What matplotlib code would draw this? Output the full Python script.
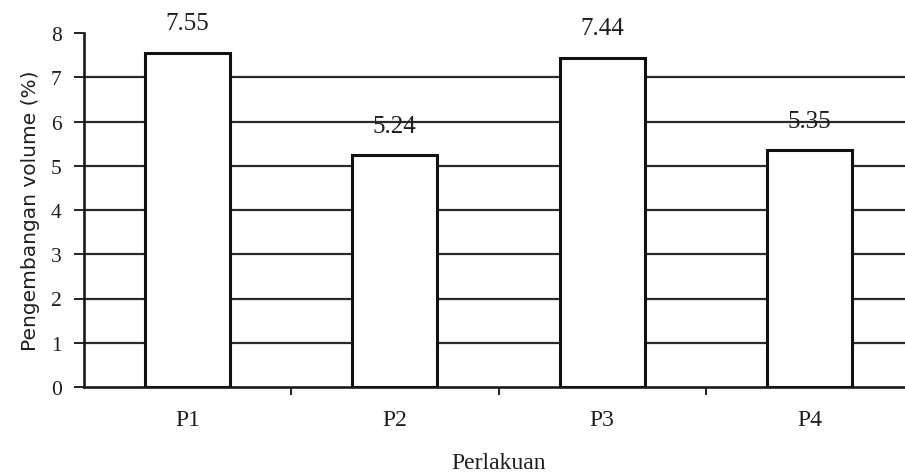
import matplotlib
matplotlib.use("Agg")
import matplotlib.pyplot as plt

# Data
categories = ["P1", "P2", "P3", "P4"]
values = [7.55, 5.24, 7.44, 5.35]
value_labels = ["7.55", "5.24", "7.44", "5.35"]
y_ticks = [0, 1, 2, 3, 4, 5, 6, 7, 8]

plt.rcParams["font.family"] = ["Liberation Serif", "DejaVu Serif"]
ink = "#1e1e1e"

fig = plt.figure(figsize=(9.05, 4.77), dpi=100)
W, H = 905, 477
left, right, top, bottom = 84, 913, 34, 388
ax = fig.add_axes([left / W, 1 - bottom / H, (right - left) / W, (bottom - top) / H])

x = list(range(len(categories)))
ax.set_xlim(-0.5, len(categories) - 0.5)
ax.set_ylim(0, 8)

# horizontal gridlines
for t in y_ticks[1:-1]:
    ax.axhline(t, color="#2a2a2a", lw=1.6, zorder=1)

bars = ax.bar(x, values, width=0.41, color="white", edgecolor="#111111",
              linewidth=2.2, zorder=3)

for xi, v, lab in zip(x, values, value_labels):
    ax.annotate(lab, (xi, v), xytext=(0, 17), textcoords="offset points",
                ha="center", va="baseline", fontsize=18, color=ink)

ax.set_yticks(y_ticks)
ax.set_yticklabels([str(t) for t in y_ticks], fontsize=15.5, color=ink)
ax.set_xticks(x)
ax.set_xticklabels(categories, fontsize=17, color=ink)
ax.tick_params(axis="x", length=0, pad=16)
ax.tick_params(axis="y", length=7, width=1.4, pad=9, color="#222222")

# small ticks between categories
ax.set_xticks([i + 0.5 for i in range(len(categories) - 1)], minor=True)
ax.tick_params(axis="x", which="minor", length=6, width=1.4, direction="out",
               color="#222222")

for s in ["top", "right"]:
    ax.spines[s].set_visible(False)
for s in ["left", "bottom"]:
    ax.spines[s].set_linewidth(1.9)
    ax.spines[s].set_color("#1a1a1a")

ax.set_ylabel("Pengembangan volume (%)", fontsize=14.5, family="DejaVu Sans",
              color=ink, labelpad=8)
ax.set_xlabel("Perlakuan", fontsize=17, color=ink, labelpad=16)

fig.savefig("out.png", dpi=100)
